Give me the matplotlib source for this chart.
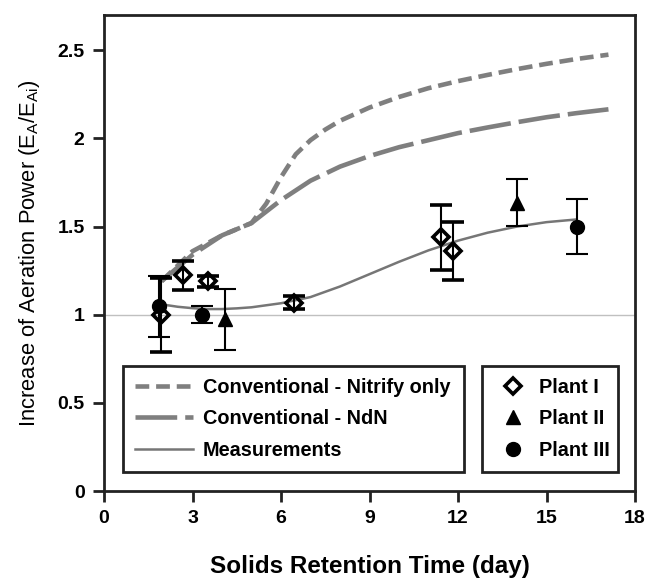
import matplotlib
matplotlib.use("Agg")
import matplotlib.pyplot as plt
from matplotlib.lines import Line2D

plt.rcParams['font.family'] = ['Liberation Sans', 'DejaVu Sans']
plt.rcParams['mathtext.default'] = 'regular'

# Model curves
nitrify_x = [1.95, 3, 4, 5, 5.5, 6, 6.5, 7, 7.5, 8, 9, 10, 11, 12, 13, 14, 15, 16, 17.1]
nitrify_y = [1.19, 1.36, 1.45, 1.52, 1.63, 1.78, 1.91, 1.99, 2.05, 2.10, 2.175, 2.235, 2.285,
             2.325, 2.36, 2.393, 2.423, 2.45, 2.475]
ndn_x = [1.95, 3, 4, 5, 6, 7, 8, 9, 10, 11, 12, 13, 14, 15, 16, 17.1]
ndn_y = [1.19, 1.34, 1.45, 1.52, 1.65, 1.76, 1.84, 1.90, 1.95, 1.99, 2.03, 2.062, 2.092,
         2.12, 2.143, 2.165]
meas_x = [1.9, 2.5, 3, 3.5, 4, 4.5, 5, 6, 7, 8, 9, 10, 11, 12, 13, 14, 15, 16]
meas_y = [1.06, 1.045, 1.037, 1.032, 1.032, 1.036, 1.042, 1.065, 1.10, 1.16, 1.23, 1.30,
          1.365, 1.42, 1.465, 1.50, 1.525, 1.54]

# Plant measurements
plant1_x = [1.93, 2.69, 3.52, 6.43, 11.44, 11.83]
plant1_y = [1.00, 1.224, 1.19, 1.067, 1.438, 1.362]
plant1_err = [0.21, 0.082, 0.032, 0.037, 0.182, 0.166]
plant2_x = [4.11, 14.0]
plant2_y = [0.975, 1.635]
plant2_err = [0.173, 0.133]
plant3_x = [1.85, 3.32, 16.02]
plant3_y = [1.047, 1.0, 1.5]
plant3_err = [0.173, 0.048, 0.155]

xticks = [0, 3, 6, 9, 12, 15, 18]
yticks = [0, 0.5, 1, 1.5, 2, 2.5]
ytick_labels = ['0', '0.5', '1', '1.5', '2', '2.5']

fig = plt.figure(figsize=(6.47, 5.83), dpi=100)
ax = fig.add_axes([104 / 647, 92 / 583, 531 / 647, 476 / 583])

gray = '#7f7f7f'
ax.axhline(1.0, color='#c0c0c0', lw=1.0, zorder=1)
l1, = ax.plot(nitrify_x, nitrify_y, color=gray, lw=3.3, linestyle=(0, (3.0, 1.5)),
              label='Conventional - Nitrify only', zorder=2)
l2, = ax.plot(ndn_x, ndn_y, color=gray, lw=3.3, linestyle=(0, (9.1, 1.75)),
              label='Conventional - NdN', zorder=2)
l3, = ax.plot(meas_x, meas_y, color='#767676', lw=1.8, label='Measurements', zorder=2)

eb = dict(ecolor='black', elinewidth=1.5, capsize=8, capthick=1.5, zorder=3)
ax.errorbar(plant1_x, plant1_y, yerr=plant1_err, fmt='D', ms=8.5, mfc='none',
            mec='black', mew=2.6, **eb)
ax.errorbar(plant2_x, plant2_y, yerr=plant2_err, fmt='^', ms=10.5, color='black', **eb)
ax.errorbar(plant3_x, plant3_y, yerr=plant3_err, fmt='o', ms=10, color='black', **eb)

ax.set_xlim(0, 18)
ax.set_ylim(0, 2.7)
ax.set_xticks(xticks)
ax.set_yticks(yticks)
ax.set_yticklabels(ytick_labels)
ax.tick_params(direction='out', length=8, width=2, pad=6, labelsize=14, color='#222222')
for lab in ax.get_xticklabels() + ax.get_yticklabels():
    lab.set_fontweight('bold')
for sp in ax.spines.values():
    sp.set_linewidth(2)
    sp.set_color('#222222')

ax.set_xlabel('Solids Retention Time (day)', fontsize=17.5, fontweight='bold', labelpad=20)
ax.set_ylabel('Increase of Aeration Power (E$_A$/E$_{Ai}$)', fontsize=15.8, labelpad=11)

leg1 = ax.legend(handles=[l1, l2, l3], loc='lower left',
                 bbox_to_anchor=(0.0358, 0.040, 0.642, 0.2226), mode='expand',
                 prop={'weight': 'bold', 'size': 14.3}, frameon=True, fancybox=False,
                 edgecolor='#222222', framealpha=1, handlelength=2.9,
                 handletextpad=0.5, borderpad=0.62, labelspacing=0.62, borderaxespad=0)
leg1.get_frame().set_linewidth(2)
ax.add_artist(leg1)

h1 = Line2D([], [], marker='D', ms=8.5, mfc='none', mec='black', mew=2.6, ls='none')
h2 = Line2D([], [], marker='^', ms=10.5, color='black', ls='none')
h3 = Line2D([], [], marker='o', ms=10, color='black', ls='none')
leg2 = ax.legend(handles=[h1, h2, h3], labels=['Plant I', 'Plant II', 'Plant III'],
                 loc='lower left', bbox_to_anchor=(0.712, 0.040, 0.256, 0.2226),
                 mode='expand', prop={'weight': 'bold', 'size': 14.3}, frameon=True,
                 fancybox=False, edgecolor='#222222', framealpha=1, numpoints=1,
                 handlelength=1.9, handletextpad=0.35, borderpad=0.62,
                 labelspacing=0.62, borderaxespad=0)
leg2.get_frame().set_linewidth(2)

fig.savefig('out.png', dpi=100)
